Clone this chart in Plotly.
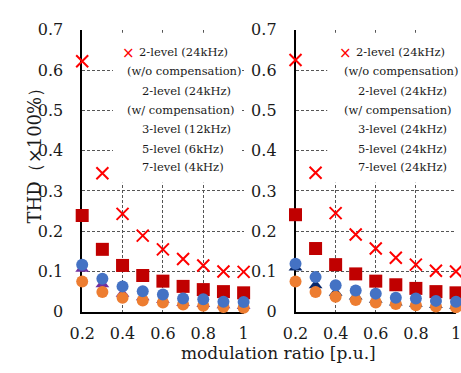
import plotly.graph_objects as go

# ---------------- data ----------------
mod_ratio = [0.2, 0.3, 0.4, 0.5, 0.6, 0.7, 0.8, 0.9, 1.0]

# left panel
L_2lvl_wo = [0.622, 0.344, 0.243, 0.189, 0.155, 0.131, 0.115, 0.100, 0.099]
L_2lvl_w = [0.239, 0.155, 0.115, 0.090, 0.076, 0.063, 0.055, 0.050, 0.047]
L_3lvl = [0.117, 0.082, 0.063, 0.051, 0.043, 0.033, 0.031, 0.025, 0.024]
L_5lvl = [0.075, 0.049, 0.035, 0.028, 0.023, 0.018, 0.015, 0.012, 0.010]
L_7lvl = [0.107, 0.068, 0.045, 0.036, 0.029, 0.022, 0.019, 0.016, 0.014]

# right panel
R_2lvl_wo = [0.625, 0.345, 0.245, 0.192, 0.157, 0.134, 0.117, 0.102, 0.100]
R_2lvl_w = [0.241, 0.157, 0.117, 0.094, 0.076, 0.067, 0.058, 0.050, 0.047]
R_3lvl = [0.119, 0.086, 0.066, 0.053, 0.045, 0.035, 0.033, 0.027, 0.025]
R_5lvl = [0.075, 0.049, 0.037, 0.029, 0.023, 0.019, 0.016, 0.013, 0.011]
R_7lvl = [0.110, 0.066, 0.047, 0.038, 0.030, 0.023, 0.020, 0.017, 0.015]

x_ticks = [0.2, 0.4, 0.6, 0.8, 1.0]
x_ticktext = ["0.2", "0.4", "0.6", "0.8", "1"]
y_ticks = [0, 0.1, 0.2, 0.3, 0.4, 0.5, 0.6, 0.7]
y_ticktext = ["0", "0.1", "0.2", "0.3", "0.4", "0.5", "0.6", "0.7"]

legend_left = ["2-level (24kHz)", "(w/o compensation)", "2-level (24kHz)",
               "(w/ compensation)", "3-level (12kHz)", "5-level (6kHz)", "7-level (4kHz)"]
legend_right = ["2-level (24kHz)", "(w/o compensation)", "2-level (24kHz)",
                "(w/ compensation)", "3-level (24kHz)", "5-level (24kHz)", "7-level (24kHz)"]

x_label = "modulation ratio [p.u.]"
y_label = "THD（×100%）"

# ---------------- figure ----------------
W, H = 461, 373
FONT = "DejaVu Serif"


def px(p):
    return p / W


def py(p):
    return 1 - p / H


fig = go.Figure()

panels = [
    ("x", "y", L_2lvl_wo, L_2lvl_w, L_3lvl, L_5lvl, L_7lvl, "#7030A0"),
    ("x2", "y2", R_2lvl_wo, R_2lvl_w, R_3lvl, R_5lvl, R_7lvl, "#0B2A6B"),
]

for xa, ya, s_wo, s_w, s3, s5, s7, tri_col in panels:
    fig.add_trace(go.Scatter(x=mod_ratio, y=s_wo, xaxis=xa, yaxis=ya, mode="markers",
                             marker=dict(symbol="x-thin", size=12, line=dict(color="#FF0000", width=2)),
                             cliponaxis=False, showlegend=False))
    fig.add_trace(go.Scatter(x=mod_ratio, y=s_w, xaxis=xa, yaxis=ya, mode="markers",
                             marker=dict(symbol="square", size=13, color="#C00000", line=dict(width=0)),
                             cliponaxis=False, showlegend=False))
    fig.add_trace(go.Scatter(x=mod_ratio, y=s7, xaxis=xa, yaxis=ya, mode="markers",
                             marker=dict(symbol="triangle-up", size=12, color=tri_col, line=dict(width=0)),
                             cliponaxis=False, showlegend=False))
    fig.add_trace(go.Scatter(x=mod_ratio, y=s5, xaxis=xa, yaxis=ya, mode="markers",
                             marker=dict(symbol="circle", size=12, color="#ED7D31", line=dict(width=0)),
                             cliponaxis=False, showlegend=False))
    fig.add_trace(go.Scatter(x=mod_ratio, y=s3, xaxis=xa, yaxis=ya, mode="markers",
                             marker=dict(symbol="circle", size=12, color="#4472C4", line=dict(width=0)),
                             cliponaxis=False, showlegend=False))

ydom = [py(319), py(22)]
common_x = dict(range=[0.2, 1.0], tickvals=x_ticks, ticktext=x_ticktext, showgrid=True,
                gridcolor="#555555", griddash="3px,2px", gridwidth=1, showline=True,
                linecolor="black", linewidth=1.5, ticks="", zeroline=False,
                tickfont=dict(family=FONT, size=16, color="#1a1a1a"), ticklabelstandoff=6,
                ticklabeloverflow="allow", layer="below traces")
common_y = dict(range=[0, 0.7], tickvals=y_ticks, ticktext=y_ticktext, showgrid=True,
                gridcolor="#555555", griddash="3px,2px", gridwidth=1, showline=True,
                linecolor="black", linewidth=1.5, ticks="", zeroline=False,
                tickfont=dict(family=FONT, size=16, color="#1a1a1a"), ticklabelstandoff=14,
                ticklabeloverflow="allow", layer="below traces", domain=ydom)

fig.update_layout(
    width=W, height=H, margin=dict(l=0, r=0, t=0, b=0),
    paper_bgcolor="white", plot_bgcolor="white",
    xaxis=dict(domain=[px(72), px(240)], anchor="y", **common_x),
    yaxis=dict(anchor="x", **common_y),
    xaxis2=dict(domain=[px(294), 1.0], anchor="y2", **common_x),
    yaxis2=dict(anchor="x2", **common_y),
    showlegend=False,
)

# legend boxes (white background)
shapes = []
for x0, x1 in [(104, 237), (327, 470)]:
    shapes.append(dict(type="rect", xref="paper", yref="paper", x0=px(x0), x1=px(x1),
                       y0=py(183), y1=py(25), fillcolor="white", line=dict(width=0), layer="above"))
fig.update_layout(shapes=shapes)

ann = []
line_y = [45, 65, 86, 106, 126, 147, 167]
# per-panel x positions: marker, first line, parenthetical lines, other lines
panel_leg = [
    (legend_left, 120, 129, 117, 132),
    (legend_right, 346, 355, 342, 357),
]
for texts, mx, x_first, x_paren, x_other in panel_leg:
    ann.append(dict(text="×", x=px(mx), y=py(line_y[0] + 1), xref="paper", yref="paper",
                    showarrow=False, xanchor="center", yanchor="middle",
                    font=dict(family="DejaVu Sans", size=15, color="#FF0000")))
    for i, t in enumerate(texts):
        if i == 0:
            xx = x_first
        elif t.startswith("("):
            xx = x_paren
        else:
            xx = x_other
        ann.append(dict(text=t, x=px(xx), y=py(line_y[i]), xref="paper", yref="paper",
                        showarrow=False, xanchor="left", yanchor="middle",
                        font=dict(family=FONT, size=11.5, color="#1a1a1a")))

ann.append(dict(text=x_label, x=px(276), y=py(362), xref="paper", yref="paper",
                showarrow=False, xanchor="center", yanchor="middle",
                font=dict(family=FONT, size=17, color="#1a1a1a")))
ann.append(dict(text=y_label, x=px(22), y=py(150), xref="paper", yref="paper",
                showarrow=False, xanchor="center", yanchor="middle", textangle=-90,
                font=dict(family=FONT, size=18, color="#1a1a1a")))
fig.update_layout(annotations=ann)

fig.write_html("out.html", config={"displayModeBar": False},
               post_script="document.body.style.margin='0';document.body.style.overflow='hidden';")
